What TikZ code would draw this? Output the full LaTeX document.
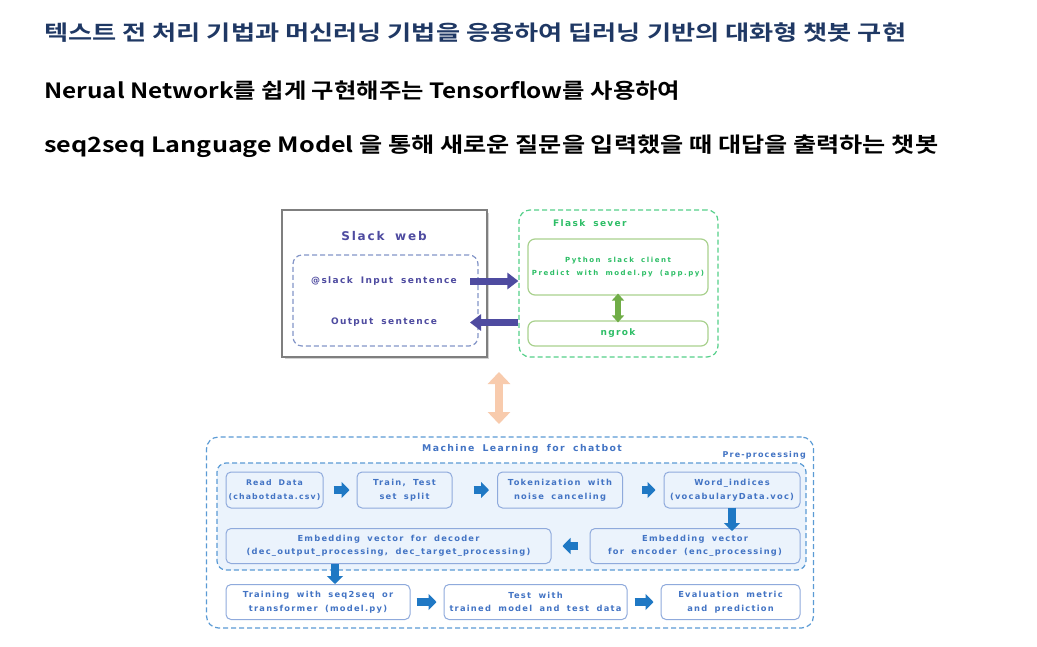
\documentclass[tikz,border=0pt]{standalone}
\usepackage{fontspec}
\usepackage{graphicx}
\usetikzlibrary{arrows.meta,shapes.arrows}
\newfontfamily\kr{Noto Sans CJK KR}[BoldFont={Noto Sans CJK KR Bold}]
\newfontfamily\dg{DejaVu Sans}[LetterSpace=15,WordSpace=1.8]
\newfontfamily\dgw{DejaVu Sans}[LetterSpace=22,WordSpace=1.8]
\definecolor{navy}{HTML}{1F3864}
\definecolor{slk}{HTML}{4E4BA0}
\definecolor{slkdash}{HTML}{8496C8}
\definecolor{grayb}{HTML}{7F7F7F}
\definecolor{gdash}{HTML}{55D08A}
\definecolor{gtext}{HTML}{2DBE66}
\definecolor{gbord}{HTML}{A9D18E}
\definecolor{garrow}{HTML}{70AD47}
\definecolor{orng}{HTML}{F8CBAD}
\definecolor{mldash}{HTML}{5B9BD5}
\definecolor{mltext}{HTML}{4374C4}
\definecolor{bbord}{HTML}{8FAADC}
\definecolor{bfill}{HTML}{EBF3FC}
\definecolor{barr}{HTML}{1F78C4}
\newcommand\fitw[2]{\resizebox{#1}{\height}{#2}}
\tikzset{
  dsh/.style={dash pattern=on 5pt off 3pt},
  ttl/.style={anchor=west, inner sep=0pt, font=\kr\bfseries\fontsize{21}{24}\selectfont},
  mbox/.style={draw=bbord, rounded corners=5pt, line width=1pt, align=center,
     font=\dg\bfseries\fontsize{8.3}{13.5}\selectfont, text=mltext, inner sep=0pt},
  barrow/.style={draw=barr, line width=8pt, -{Triangle[length=8pt,width=16pt]}},
  parrow/.style={draw=slk, line width=7pt, -{Triangle[length=11pt,width=16pt]}},
  garrowst/.style={draw=garrow, line width=6pt, {Triangle[length=7pt,width=12pt]}-{Triangle[length=7pt,width=12pt]}},
  oarrow/.style={draw=orng, line width=8pt, {Triangle[length=12pt,width=22pt]}-{Triangle[length=12pt,width=22pt]}},
  gbox/.style={draw=gbord, rounded corners=7pt, line width=1.2pt, align=center, inner sep=0pt,
     text=gtext, font=\dgw\bfseries\fontsize{7}{13.5}\selectfont},
}
\begin{document}
\begin{tikzpicture}[x=1pt,y=-1pt]
\useasboundingbox[fill=white] (0,0) rectangle (1037,646);
% titles
\node[ttl, text=navy] (t1) at (44,33) {\fitw{862pt}{텍스트 전 처리 기법과 머신러닝 기법을 응용하여 딥러닝 기반의 대화형 챗봇 구현}};
\node[ttl] (t2) at (44,91) {\fitw{636pt}{Nerual Network를 쉽게 구현해주는 Tensorflow를 사용하여}};
\node[ttl] (t3) at (44,146) {\fitw{894pt}{seq2seq Language Model 을 통해 새로운 질문을 입력했을 때 대답을 출력하는 챗봇}};

% Slack web
\fill[gray!35] (285,213) rectangle (489,359);
\node[draw=grayb, fill=white, line width=1.3pt, minimum width=205pt, minimum height=147pt, inner sep=0pt] (slack) at (384.5,283.5) {};
\node[text=slk, font=\dg\bfseries\fontsize{12}{13}\selectfont] (slt) at (384,236) {Slack web};
\node[draw=slkdash, dsh, line width=1.2pt, rounded corners=9pt, minimum width=185pt, minimum height=91pt, inner sep=0pt] (sin) at (385.5,300.5) {};
\node[text=slk, font=\dg\bfseries\fontsize{9}{13}\selectfont] (inp) at (384,281) {@slack Input sentence};
\node[text=slk, font=\dg\bfseries\fontsize{9}{13}\selectfont] (outp) at (384,322.5) {Output sentence};

% Flask
\node[draw=gdash, dsh, line width=1.2pt, rounded corners=11pt, minimum width=199pt, minimum height=147pt, inner sep=0pt] (flask) at (618.5,283.5) {};
\node[anchor=west, inner sep=0pt, text=gtext, font=\dg\bfseries\fontsize{9}{13}\selectfont] (flt) at (553,223) {Flask sever};
\node[gbox, minimum width=180pt, minimum height=56pt] (py) at (618,267) {Python slack client\\Predict with model.py (app.py)};
\node[gbox, minimum width=180pt, minimum height=25pt, font=\dg\bfseries\fontsize{9}{13}\selectfont] (ngrok) at (618,333.5) {ngrok};
\draw[garrowst] ([yshift=2pt]py.south) -- ([yshift=-2pt]ngrok.north);

% purple arrows
\coordinate (pa1) at (470,281);
\coordinate (pa2) at (470,322.5);
\draw[parrow] (pa1) -- (flask.west |- pa1);
\draw[parrow] (flask.west |- pa2) -- (pa2);

% orange arrow
\coordinate (oa1) at (499,372);
\coordinate (oa2) at (499,424);
\draw[oarrow] (oa1) -- (oa2);

% ML box
\node[draw=mldash, dsh, line width=1.2pt, rounded corners=12pt, minimum width=607pt, minimum height=191pt, inner sep=0pt] (ml) at (510,532.5) {};
\node[text=mltext, font=\dg\bfseries\fontsize{9.3}{13}\selectfont] (mlt) at (522,449) {Machine Learning for chatbot};
\node[draw=mldash, dsh, fill=bfill, line width=1.2pt, rounded corners=9pt, minimum width=589pt, minimum height=107pt, inner sep=0pt] (pre) at (511.5,516.5) {};
\node[anchor=east, inner sep=0pt, text=mltext, font=\dg\bfseries\fontsize{8}{13}\selectfont] (prt) at (806,455) {Pre-processing};

\node[mbox, minimum width=97pt, minimum height=36pt, font=\dg\bfseries\fontsize{7.8}{13.5}\selectfont] (rd) at (274.5,490) {Read Data\\(chabotdata.csv)};
\node[mbox, minimum width=95pt, minimum height=36pt] (tt) at (404.5,490) {Train, Test\\set split};
\node[mbox, minimum width=125pt, minimum height=36pt] (tok) at (560,490) {Tokenization with\\noise canceling};
\node[mbox, minimum width=136pt, minimum height=36pt] (wi) at (732,490) {Word\_indices\\(vocabularyData.voc)};
\node[mbox, minimum width=325pt, minimum height=35pt] (dec) at (388.5,546) {Embedding vector for decoder\\(dec\_output\_processing, dec\_target\_processing)};
\node[mbox, minimum width=210pt, minimum height=35pt] (enc) at (695,546) {Embedding vector\\for encoder (enc\_processing)};
\node[mbox, fill=white, minimum width=184pt, minimum height=35pt] (trn) at (318,602) {Training with seq2seq or\\transformer (model.py)};
\node[mbox, fill=white, minimum width=183pt, minimum height=35pt] (tst) at (535.5,602) {Test with\\trained model and test data};
\node[mbox, fill=white, minimum width=139pt, minimum height=35pt] (ev) at (730.5,602) {Evaluation metric\\and prediction};

\draw[barrow] ([xshift=10pt]rd.east) -- ([xshift=-7pt]tt.west);
\draw[barrow] ([xshift=21pt]tt.east) -- ([xshift=-8pt]tok.west);
\draw[barrow] ([xshift=19pt]tok.east) -- ([xshift=-8pt]wi.west);
\draw[barrow] ([yshift=1pt]wi.south) -- ([yshift=-3pt]enc.north -| wi.south);
\draw[barrow] ([xshift=-12pt]enc.west) -- ([xshift=11pt]dec.east);
\draw[barrow] (dec.south -| 335,0) -- (trn.north -| 335,0);
\draw[barrow] ([xshift=6pt]trn.east) -- ([xshift=-7pt]tst.west);
\draw[barrow] ([xshift=7pt]tst.east) -- ([xshift=-7pt]ev.west);
\end{tikzpicture}
\end{document}
